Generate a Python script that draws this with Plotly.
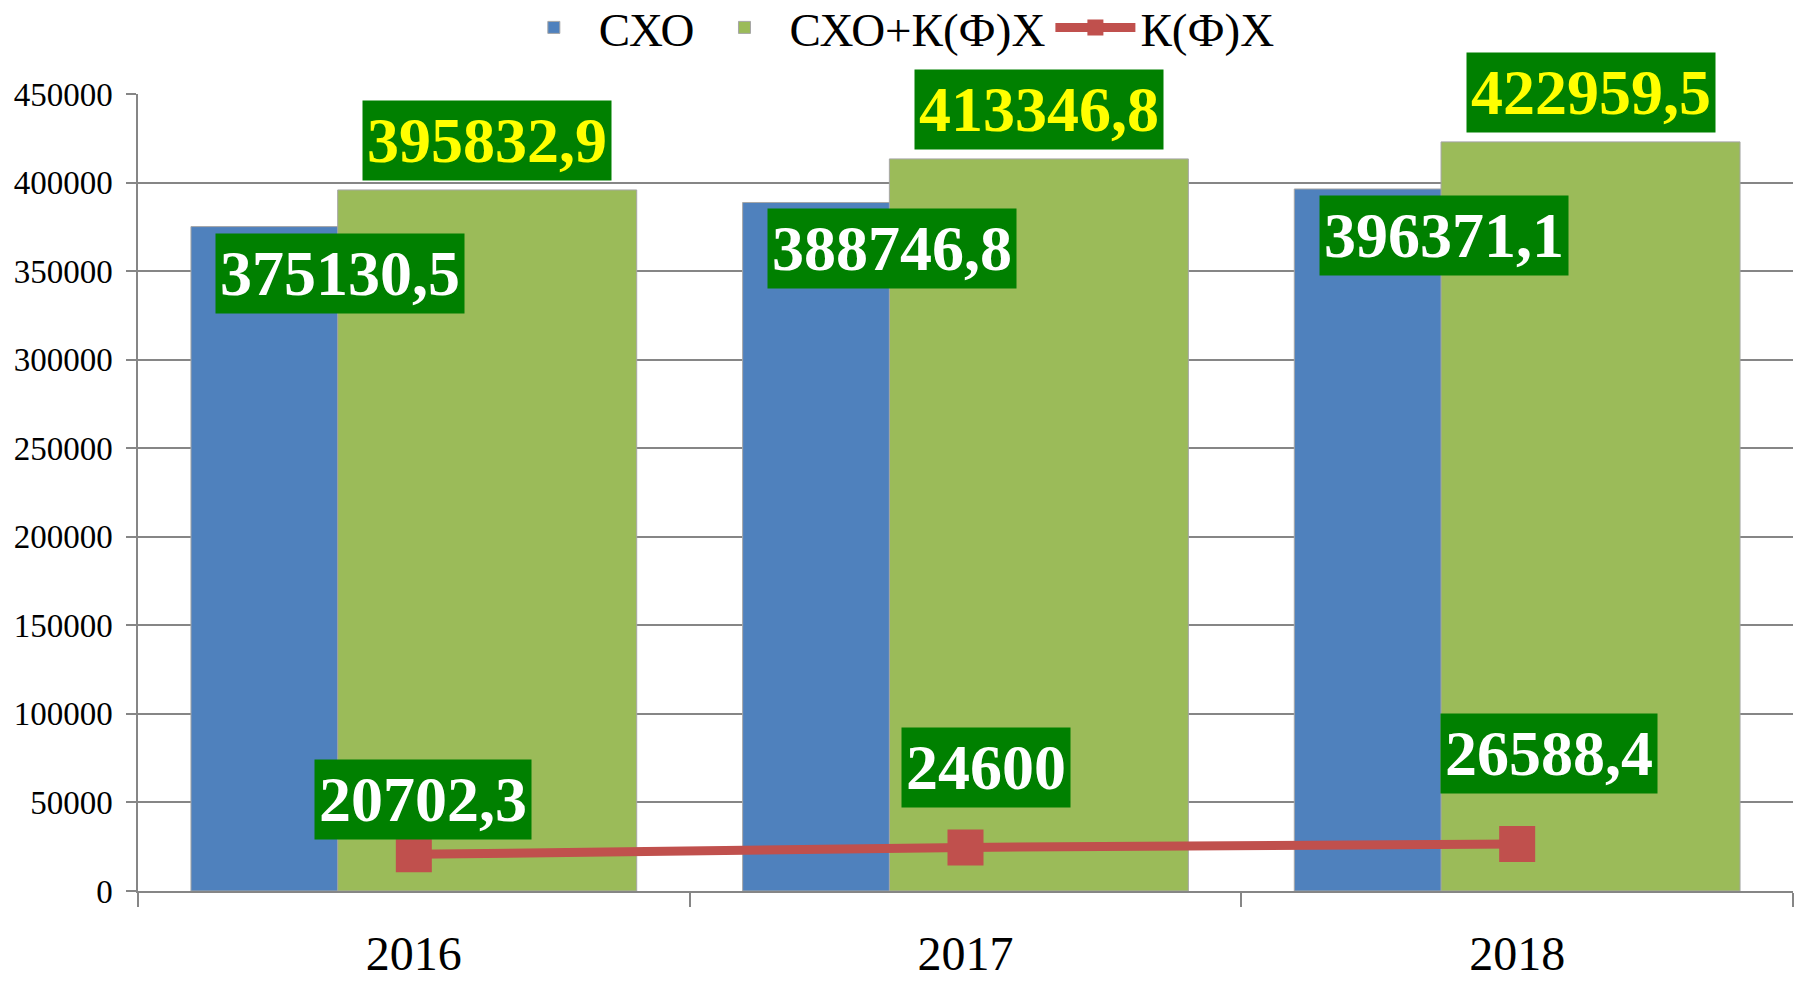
import plotly.graph_objects as go

categories = ["2016", "2017", "2018"]
cho = [375130.5, 388746.8, 396371.1]
cho_kfh = [395832.9, 413346.8, 422959.5]
kfh = [20702.3, 24600, 26588.4]
cho_labels = ["375130,5", "388746,8", "396371,1"]
cho_kfh_labels = ["395832,9", "413346,8", "422959,5"]
kfh_labels = ["20702,3", "24600", "26588,4"]

# label placement tweaks (pixels)
line_label_xshift = [9, 20, 32]
line_label_yshift = [14, 39, 50]

BLUE = "#4F81BD"
GREEN = "#9BBB59"
RED = "#C0504D"
BOX = "#008000"
FONT = "Liberation Serif"

BAR_W = 0.542
BLUE_OFF = -0.404
GREEN_OFF = -0.138

fig = go.Figure()
fig.add_trace(go.Bar(
    x=categories, y=cho, name="СХО", width=BAR_W, offset=BLUE_OFF,
    marker=dict(color=BLUE, line=dict(color="#A6A6A6", width=1)),
))
fig.add_trace(go.Bar(
    x=categories, y=cho_kfh, name="СХО+К(Ф)Х", width=BAR_W, offset=GREEN_OFF,
    marker=dict(color=GREEN, line=dict(color="#A6A6A6", width=1)),
))
fig.add_trace(go.Scatter(
    x=categories, y=kfh, name="К(Ф)Х", mode="lines+markers",
    line=dict(color=RED, width=9),
    marker=dict(symbol="square", size=36, color=RED),
))

ann = []
for i, c in enumerate(categories):
    ann.append(dict(
        x=i + BLUE_OFF + BAR_W / 2, y=cho[i], xref="x", yref="y",
        text=cho_labels[i], showarrow=False, yanchor="top", yshift=-6,
        bgcolor=BOX, borderpad=4,
        font=dict(family=FONT, size=64, color="white", weight="bold"),
    ))
    ann.append(dict(
        x=i + GREEN_OFF + BAR_W / 2, y=cho_kfh[i], xref="x", yref="y",
        text=cho_kfh_labels[i], showarrow=False, yanchor="bottom", yshift=9,
        bgcolor=BOX, borderpad=4,
        font=dict(family=FONT, size=64, color="#FFFF00", weight="bold"),
    ))
    ann.append(dict(
        x=i, y=kfh[i], xref="x", yref="y",
        text=kfh_labels[i], showarrow=False, yanchor="bottom",
        xshift=line_label_xshift[i], yshift=line_label_yshift[i],
        bgcolor=BOX, borderpad=4,
        font=dict(family=FONT, size=64, color="white", weight="bold"),
    ))

fig.update_layout(
    width=1803, height=982,
    margin=dict(l=138, r=10, t=94, b=91, autoexpand=False),
    paper_bgcolor="white", plot_bgcolor="white",
    barmode="overlay",
    font=dict(family=FONT, color="black"),
    annotations=ann,
    showlegend=True,
    legend=dict(
        orientation="h", x=0.457, xanchor="center",
        yref="paper", y=1.083, yanchor="middle",
        font=dict(family=FONT, size=47, color="black"),
        itemwidth=80, tracegroupgap=0,
        bgcolor="rgba(0,0,0,0)",
    ),
)
fig.update_xaxes(
    type="category", range=[-0.5, 2.5], automargin=False,
    showline=True, linecolor="#868686", linewidth=1.5,
    ticks="outside", tickson="boundaries", ticklen=14, tickcolor="#868686", tickwidth=1.5,
    tickfont=dict(family=FONT, size=48, color="black"),
    ticklabelstandoff=20,
    showgrid=False, zeroline=False,
)
fig.update_yaxes(
    range=[0, 450000], dtick=50000, tickformat="d", automargin=False,
    showline=True, linecolor="#868686", linewidth=1.5,
    ticks="outside", ticklen=10, tickcolor="#868686", tickwidth=1.5,
    tickfont=dict(family=FONT, size=33, color="black"),
    showgrid=True, gridcolor="#868686", gridwidth=1.5,
    zeroline=False,
    ticklabelstandoff=7,
)

fig.write_html(
    "out.html",
    config={"displayModeBar": False},
    post_script="document.body.style.margin='0';document.body.style.overflow='hidden';",
)
